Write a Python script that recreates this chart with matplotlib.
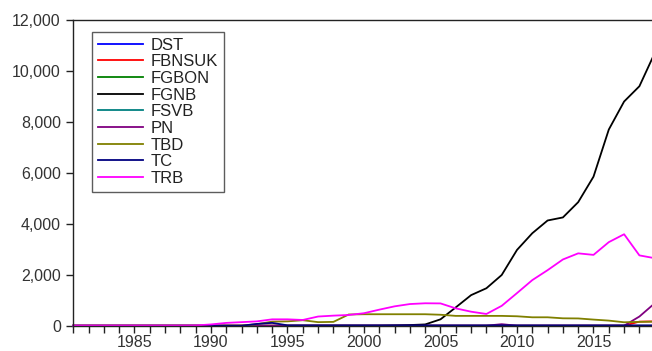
import matplotlib
matplotlib.use("Agg")
import matplotlib.pyplot as plt
import numpy as np

plt.rcParams['font.family'] = ['Liberation Sans', 'DejaVu Sans']

years = list(range(1981, 2020))

DST = [0] * 39
FGBON = [0] * 39
FSVB = [0] * 39
FBNSUK = [0] * 37 + [160, 170]
FGNB = [0] * 21 + [10, 25, 50, 250, 720, 1200, 1470, 1990, 2975, 3630, 4130, 4250,
                   4850, 5850, 7700, 8800, 9400, 10700]
PN = [0] * 28 + [60] + [0] * 8 + [360, 880]
TBD = [0] * 12 + [60, 160, 170, 215, 140, 150, 440, 450, 450, 450, 450, 450, 430,
                  385, 385, 385, 385, 370, 330, 330, 290, 285, 240, 200, 135, 150, 160]
TC = [0] * 12 + [70, 110] + [15] * 25
TRB = [5] * 8 + [10, 50, 110, 140, 170, 250, 250, 225, 360, 395, 420, 490, 630, 760,
                 850, 880, 875, 680, 550, 460, 780, 1280, 1790, 2180, 2600, 2840, 2780,
                 3280, 3590, 2760, 2650]

series = [
    ("DST", DST, "#0000ff"),
    ("FBNSUK", FBNSUK, "#ff0000"),
    ("FGBON", FGBON, "#008000"),
    ("FGNB", FGNB, "#000000"),
    ("FSVB", FSVB, "#008080"),
    ("PN", PN, "#800080"),
    ("TBD", TBD, "#808000"),
    ("TC", TC, "#000080"),
    ("TRB", TRB, "#ff00ff"),
]

W, H = 652, 351
fig = plt.figure(figsize=(W / 100, H / 100), dpi=100)
x0, x1 = 73.3, 654.7
y0, y1 = 325.7, 20.0
ax = fig.add_axes([x0 / W, (H - y0) / H, (x1 - x0) / W, (y0 - y1) / H])

for name, vals, col in series:
    ax.plot(years, vals, color=col, lw=1.3, label=name, clip_on=False, solid_joinstyle='round')

ax.set_xlim(1981, 2019)
ax.set_ylim(0, 12000)
ax.set_xticks(range(1981, 2020), minor=True)
ax.set_xticks([1985, 1990, 1995, 2000, 2005, 2010, 2015])
ax.set_yticks(range(0, 12001, 2000))
ax.set_yticklabels([f"{v:,}" for v in range(0, 12001, 2000)])
ax.tick_params(axis='both', which='both', direction='out', length=5, width=1,
               color='#222222', labelsize=11.5, labelcolor='#333333', pad=4)
ax.tick_params(axis='x', which='both', labelsize=11.5, pad=1.5)
for s in ax.spines.values():
    s.set_linewidth(1)
    s.set_color('#222222')

leg = ax.legend(loc='upper left', bbox_to_anchor=(92 / W, 1 - 31.7 / H),
                bbox_transform=fig.transFigure, borderaxespad=0, fancybox=False,
                frameon=True, edgecolor='#333333', fontsize=12, handlelength=2.7,
                handletextpad=0.45, labelspacing=0.1, borderpad=0.35)
leg.get_frame().set_linewidth(1)
for t in leg.get_texts():
    t.set_color('#222222')

fig.savefig("out.png", dpi=100)
